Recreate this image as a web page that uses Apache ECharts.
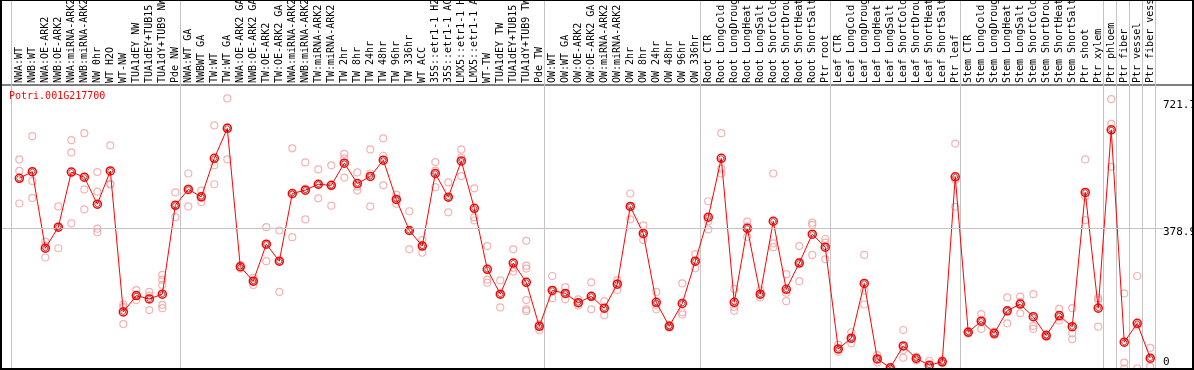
<!DOCTYPE html>
<html>
<head>
<meta charset="utf-8">
<script src="https://cdn.jsdelivr.net/npm/echarts@6/dist/echarts.min.js"></script>
<style>
html,body{margin:0;padding:0;background:#fff;}
#c{width:1194px;height:370px;}
</style>
</head>
<body>
<div id="c"></div>
<script>
const chartTitle = 'Potri.001G217700';
const categories = [
 'NWA:WT','NWB:WT','NWA:OE-ARK2','NWB:OE-ARK2','NWA:miRNA-ARK2','NWB:miRNA-ARK2','NW 0hr','WT H2O','WT-NW','TUA1dEY NW','TUA1dEY+TUB15 NW','TUA1dY+TUB9 NW','Pde NW',
 'NWA:WT GA','NWBWT GA','TW:WT','TW:WT GA','NWA:OE-ARK2 GA','NWB:OE-ARK2 GA','TW:OE-ARK2','TW:OE-ARK2 GA','NWA:miRNA-ARK2','NWB:miRNA-ARK2','TW:miRNA-ARK2','TW:miRNA-ARK2','TW 2hr','TW 8hr','TW 24hr','TW 48hr','TW 96hr','TW 336hr','WT ACC','35S::etr1-1 H2O','35S::etr1-1 ACC','LMX5::etr1-1 H2O','LMX5::etr1-1 ACC','WT-TW','TUA1dEY TW','TUA1dEY+TUB15 TW','TUA1dY+TUB9 TW','Pde TW',
 'OW:WT','OW:WT GA','OW:OE-ARK2','OW:OE-ARK2 GA','OW:miRNA-ARK2','OW:miRNA-ARK2','OW 2hr','OW 8hr','OW 24hr','OW 48hr','OW 96hr','OW 336hr',
 'Root CTR','Root LongCold','Root LongDrought','Root LongHeat','Root LongSalt','Root ShortCold','Root ShortDrought','Root ShortHeat','Root ShortSalt','Ptr root',
 'Leaf CTR','Leaf LongCold','Leaf LongDrought','Leaf LongHeat','Leaf LongSalt','Leaf ShortCold','Leaf ShortDrought','Leaf ShortHeat','Leaf ShortSalt','Ptr leaf',
 'Stem CTR','Stem LongCold','Stem LongDrought','Stem LongHeat','Stem LongSalt','Stem ShortCold','Stem ShortDrought','Stem ShortHeat','Stem ShortSalt','Ptr shoot','Ptr xylem',
 'Ptr phloem','Ptr fiber','Ptr vessel','Ptr fiber vessel'
];
const groupSizes = [13, 28, 12, 10, 10, 11, 1, 1, 1, 1];
const means = [
 514, 532, 325, 382, 531, 517, 444, 534, 153, 197, 188, 201, 441,
 484, 464, 568, 649, 275, 236, 336, 290, 473, 482, 498, 495, 555, 500, 519, 563, 457, 373, 331, 527, 463, 561, 433, 268, 201, 285, 233, 114,
 211, 203, 178, 195, 163, 228, 438, 365, 179, 114, 176, 290,
 409, 568, 179, 379, 201, 398, 214, 285, 363, 328,
 53, 82, 230, 26, 2, 61, 27, 9, 18, 518,
 98, 128, 95, 156, 174, 140, 89, 143, 113, 476, 163,
 645, 71, 122, 28
];
const reps = [
 [565,534,446],[628,507,461],[343,332,300],[438,383,325],[617,584,392],[636,484,430],[531,478,378,368],[603,500,497],[173,166,120],[212,197,185],[207,197,158],[253,240,226,172,163],[476,441,409],
 [527,486,438],[481,462,450],[657,549,498],[730,652,565],[280,275,270],[245,237,226],[382,336,290],[373,290,207],[595,470,355],[557,486,403],[538,496,460],[549,496,440],[580,568,516],[530,492,481],[592,527,438],[622,575,495],[470,457,445],[425,373,322],[347,333,313],[558,535,490],[503,463,422],[592,570,520],[487,409,400],[331,240,232],[238,201,165],[322,272,262],[345,278,270,185,160,155],[120,114,104],
 [250,212,190],[220,203,187],[187,178,170],[233,195,160],[182,163,144],[239,230,212],[473,438,403],[387,362,347],[207,172,160],[118,114,110],[230,152,146],[309,290,271],
 [452,398,376],[636,540,527],[215,166,156],[397,384,356],[212,200,192],[527,338,328],[255,205,182],[331,288,236],[394,388,307],[350,340,295],
 [64,52,45],[98,80,68],[307,210,173],[36,26,16],[4,2,0],[104,50,29],[32,27,22],[21,5,2],[22,18,14],[608,510,437],
 [102,98,94],[147,130,107],[100,95,90],[192,156,122],[194,180,149],[201,115,107],[93,89,85],[161,138,130],[163,95,79],[565,465,401],[190,185,113],
 [728,661,545],[203,16,0],[250,116,0],[56,24,5]
];
const yTickValues = [378.9, 721.7];
const yGuide = 378.9;

const FONT = 'DejaVu Sans Mono';
const idx = categories.map((_, i) => i);
const repData = [];
reps.forEach((arr, i) => arr.forEach(v => repData.push([i, v])));
const meanData = means.map((v, i) => [i, v]);
const sepOffset = 5 / 13;
const seps = [];
let end = -1;
seps.push(end + sepOffset);
groupSizes.forEach(g => { end += g; seps.push(end + sepOffset); });

const chart = echarts.init(document.getElementById('c'), null, {renderer: 'canvas'});
chart.setOption({
  animation: false,
  backgroundColor: '#fff',
  title: {
    text: chartTitle, left: 9, top: 91, padding: 0,
    textStyle: {color: '#ff0000', fontSize: 10, fontWeight: 'normal', fontFamily: FONT}
  },
  grid: {left: 1, right: 1, top: 85, bottom: 1.5, containLabel: false, outerBoundsMode: 'none',
    show: true, borderColor: '#000', borderWidth: 1, backgroundColor: 'transparent'},
  xAxis: {
    type: 'value', position: 'top', min: -1.41, max: 90.29,
    axisLine: {show: false}, axisTick: {show: false}, splitLine: {show: false},
    axisLabel: {
      customValues: idx, formatter: v => categories[Math.round(v)] || '',
      rotate: 90, margin: 2, fontSize: 10, fontFamily: FONT, color: '#000'
    }
  },
  yAxis: [{
    type: 'value', position: 'right', min: 0, max: 766.2, z: 10,
    axisLine: {show: false}, axisTick: {show: false}, splitLine: {show: false},
    axisLabel: {
      customValues: yTickValues, formatter: v => String(v), inside: true, margin: 30, align: 'left',
      verticalAlign: 'top', lineHeight: 8, fontSize: 11, fontFamily: FONT, color: '#000', backgroundColor: '#fff'
    }
  }, {
    type: 'value', position: 'right', min: 0, max: 766.2, z: 10,
    axisLine: {show: false}, axisTick: {show: false}, splitLine: {show: false},
    axisLabel: {
      customValues: [0], formatter: v => String(v), inside: true, margin: 30, align: 'left',
      verticalAlign: 'bottom', lineHeight: 12, fontSize: 11, fontFamily: FONT, color: '#000'
    }
  }],
  graphic: [{
    type: 'rect', z: 100, silent: true,
    shape: {x: 1, y: 0, width: 1192, height: 369},
    style: {fill: 'none', stroke: '#000', lineWidth: 2}
  }],
  series: [{
    type: 'custom', z: 1, clip: false, silent: true,
    data: seps.map(s => [s]),
    renderItem: (params, api) => {
      const x = Math.round(api.coord([api.value(0), 0])[0]) + 0.5;
      const cs = params.coordSys;
      return {type: 'line', shape: {x1: x, y1: 0, x2: x, y2: cs.y + cs.height}, style: {stroke: '#c4c4c4', lineWidth: 1}};
    }
  }, {
    type: 'scatter', z: 3, silent: true,
    data: repData, symbol: 'circle', symbolSize: 7,
    itemStyle: {color: 'rgba(0,0,0,0)', borderColor: '#f0a0a0', borderWidth: 1.2}
  }, {
    type: 'line', z: 4, silent: true,
    data: meanData, symbol: 'circle', symbolSize: 8, showSymbol: true,
    lineStyle: {color: '#ff0000', width: 1},
    itemStyle: {color: 'rgba(0,0,0,0)', borderColor: '#ff0000', borderWidth: 1.5},
    markLine: {
      silent: true, symbol: 'none', label: {show: false},
      lineStyle: {color: '#c4c4c4', width: 1, type: 'solid'},
      data: [{yAxis: yGuide}]
    }
  }, {
    type: 'scatter', z: 5, silent: true,
    data: meanData, symbol: 'circle', symbolSize: 5,
    itemStyle: {color: 'rgba(0,0,0,0)', borderColor: '#700000', borderWidth: 0.8}
  }]
});
</script>
</body>
</html>
